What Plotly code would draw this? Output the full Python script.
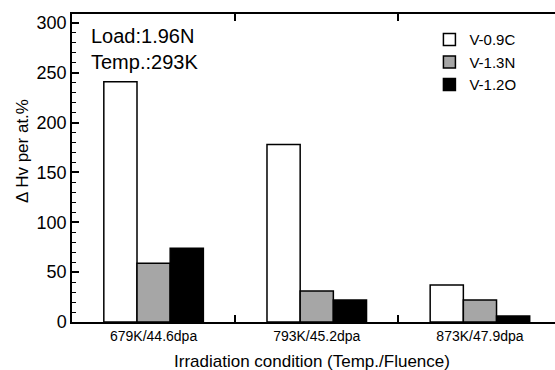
import plotly.graph_objects as go

categories = ["679K/44.6dpa", "793K/45.2dpa", "873K/47.9dpa"]
series_names = ["V-0.9C", "V-1.3N", "V-1.2O"]
v_09c = [241, 178, 37]
v_13n = [59, 31, 22]
v_12o = [74, 22, 6]
y_ticks = [0, 50, 100, 150, 200, 250, 300]

FONT = "Liberation Sans, Arial, sans-serif"

fig = go.Figure()
fig.add_trace(go.Bar(x=categories, y=v_09c, name=series_names[0],
                     marker=dict(color="white", line=dict(color="black", width=1.5))))
fig.add_trace(go.Bar(x=categories, y=v_13n, name=series_names[1],
                     marker=dict(color="white", line=dict(color="black", width=1.5),
                                 pattern=dict(shape=".", fgcolor="#222222", bgcolor="white",
                                              size=2, solidity=0.45, fillmode="replace"))))
fig.add_trace(go.Bar(x=categories, y=v_12o, name=series_names[2],
                     marker=dict(color="black", line=dict(color="black", width=1.5))))

fig.update_layout(
    width=555, height=370,
    margin=dict(l=72, r=0, t=14, b=48),
    paper_bgcolor="white", plot_bgcolor="white",
    barmode="group", bargap=0.39, bargroupgap=0,
    font=dict(family=FONT, color="black"),
    showlegend=True,
    legend=dict(x=0.74, y=0.97, xanchor="left", yanchor="top",
                font=dict(size=15, family=FONT), tracegroupgap=0,
                bgcolor="rgba(0,0,0,0)", itemclick=False),
)
fig.update_xaxes(
    type="category", range=[-0.5, 2.46],
    tickson="boundaries", ticks="inside", ticklen=7, tickwidth=1.5, tickcolor="black",
    showline=True, linewidth=1.5, linecolor="black", mirror="ticks",
    showgrid=False, zeroline=False,
    tickfont=dict(size=14, family=FONT),
)
fig.update_yaxes(
    range=[0, 309], tickvals=y_ticks,
    ticks="inside", ticklen=7, tickwidth=1.5, tickcolor="black",
    minor=dict(dtick=10, ticks="inside", ticklen=4, tickwidth=1.2, tickcolor="black", showgrid=False),
    showline=True, linewidth=1.5, linecolor="black", mirror=False,
    showgrid=False, zeroline=False,
    tickfont=dict(size=18, family=FONT),
)

fig.add_annotation(text="Irradiation condition (Temp./Fluence)", xref="paper", yref="paper",
                   x=(312 - 72) / 483, y=-(361 - 322) / 308, xanchor="center", yanchor="middle",
                   showarrow=False, font=dict(size=17, family=FONT))
fig.add_annotation(text="Δ Hv per at.%", xref="paper", yref="paper",
                   x=-(72 - 22) / 483, y=(322 - 151) / 308, xanchor="center", yanchor="middle",
                   textangle=-90, showarrow=False, font=dict(size=17, family=FONT))
fig.add_annotation(text="Load:1.96N<br>Temp.:293K", xref="paper", yref="paper",
                   x=(89 - 72) / 483, y=(322 - 23) / 308, xanchor="left", yanchor="top",
                   align="left", showarrow=False, font=dict(size=20, family=FONT))

fig.write_html("out.html", config={"displayModeBar": False},
               post_script="document.body.style.margin='0';document.body.style.padding='0';")
